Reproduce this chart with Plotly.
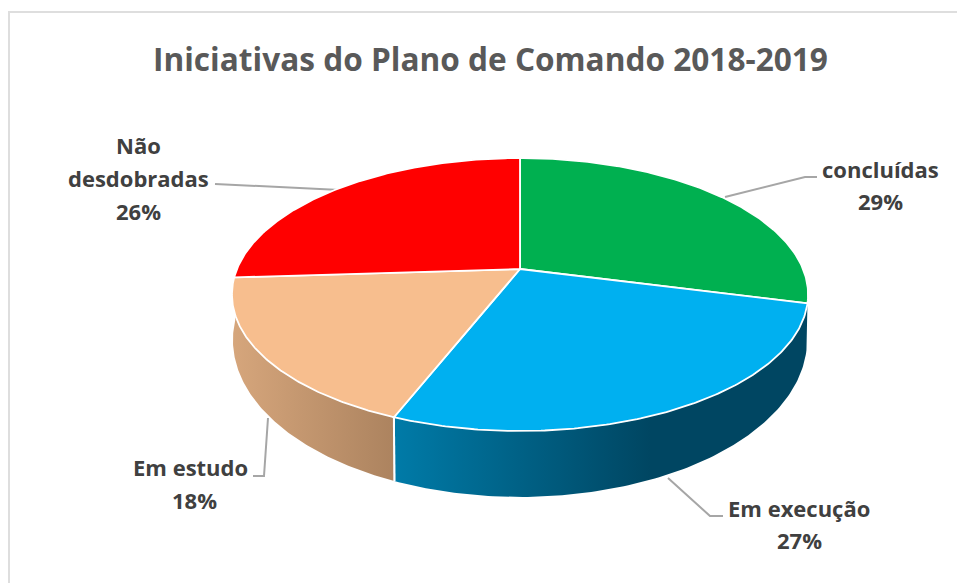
import numpy as np
import plotly.graph_objects as go

# --- data ---
categories = ["concluídas", "Em execução", "Em estudo", "Não desdobradas"]
values = [29, 27, 18, 26]
title_text = "Iniciativas do Plano de Comando 2018-2019"
slice_colors = ["#00B050", "#00B0F0", "#F7BE8E", "#FF0000"]
wall_gradients = {
    "Em execução": [[0, "#007BA8"], [0.62, "#004662"], [1, "#004662"]],
    "Em estudo": [[0, "#D6A67C"], [1, "#AC835F"]],
}
label_lines = {
    "concluídas": [("concluídas", 880, 169)],
    "Em execução": [("Em execução", 799, 508)],
    "Em estudo": [("Em estudo", 190, 467)],
    "Não desdobradas": [("Não", 138, 145), ("desdobradas", 138, 178)],
}
pct_pos = {"concluídas": (880, 201), "Em execução": (799, 540),
           "Em estudo": (194, 500), "Não desdobradas": (138, 211)}
leaders = {
    "concluídas": ([725, 805, 817], [197, 177, 177]),
    "Em execução": ([668, 710, 723], [478, 516, 516]),
    "Em estudo": ([268, 264, 253], [418, 476, 476]),
    "Não desdobradas": ([215, 340], [184, 190]),
}

# --- perspective disc projection (plot-space scale of the "3D" pie) ---
K = 0.187
TOP = dict(cx=520, y0=269, a=283, b=131.7)
BOTTOM = dict(cx=520, y0=310.6, a=282, b=151.5)


def project(theta, p):
    u, v = np.sin(theta), np.cos(theta)
    d = 1 + K * v
    return p["cx"] + p["a"] * u / d, p["y0"] - p["b"] * v / d


fractions = np.cumsum([0] + values) / sum(values)
FONT = "Open Sans"
fig = go.Figure()

# frame
fig.add_trace(go.Scatter(x=[9, 9, 957], y=[583, 12, 12], mode="lines",
                         line=dict(color="#DEDEDE", width=2), hoverinfo="skip"))

# leader lines
for name in categories:
    lx, ly = leaders[name]
    fig.add_trace(go.Scatter(x=lx, y=ly, mode="lines",
                             line=dict(color="#A6A6A6", width=2), hoverinfo="skip"))

# side walls
for i, name in enumerate(categories):
    if name not in wall_gradients:
        continue
    t = np.linspace(fractions[i], fractions[i + 1], 120) * 2 * np.pi
    xt, yt = project(t, TOP)
    xb, yb = project(t, BOTTOM)
    fig.add_trace(go.Scatter(
        x=np.r_[xt, xb[::-1], xt[0]], y=np.r_[yt, yb[::-1], yt[0]],
        mode="lines", fill="toself", line=dict(color="rgba(0,0,0,0)", width=0),
        fillgradient=dict(type="horizontal", colorscale=wall_gradients[name]),
        hoverinfo="skip"))
    # white edge at the wall's start/end
    for end in (0, -1):
        if name == "Em execução" and end == -1 or name == "Em estudo" and end == 0:
            fig.add_trace(go.Scatter(x=[xt[end], xb[end]], y=[yt[end], yb[end]], mode="lines",
                                     line=dict(color="white", width=2), hoverinfo="skip"))

# top surface slices
for i, name in enumerate(categories):
    t = np.linspace(fractions[i], fractions[i + 1], 160) * 2 * np.pi
    xt, yt = project(t, TOP)
    fig.add_trace(go.Scatter(
        x=np.r_[TOP["cx"], xt, TOP["cx"]], y=np.r_[TOP["y0"], yt, TOP["y0"]],
        mode="lines", fill="toself", fillcolor=slice_colors[i],
        line=dict(color="white", width=1.8), name=name, hoverinfo="name"))

# text
annotations = [dict(x=490, y=58, text=f"<b>{title_text}</b>", showarrow=False,
                    xref="x", yref="y", xanchor="center", yanchor="middle",
                    font=dict(family=FONT, size=31.6, color="#595959"))]
for i, name in enumerate(categories):
    for txt, x, y in label_lines[name]:
        annotations.append(dict(x=x, y=y, text=f"<b>{txt}</b>", showarrow=False,
                                xref="x", yref="y", xanchor="center", yanchor="middle",
                                font=dict(family=FONT, size=22, color="#404040")))
    px_, py_ = pct_pos[name]
    annotations.append(dict(x=px_, y=py_, text=f"<b>{values[i]}%</b>", showarrow=False,
                            xref="x", yref="y", xanchor="center", yanchor="middle",
                            font=dict(family=FONT, size=22, color="#404040")))

fig.update_layout(
    width=957, height=583, margin=dict(l=0, r=0, t=0, b=0),
    paper_bgcolor="white", plot_bgcolor="white", showlegend=False,
    xaxis=dict(range=[0, 957], visible=False, fixedrange=True),
    yaxis=dict(range=[583, 0], visible=False, fixedrange=True),
    annotations=annotations,
)
fig.write_html("out.html", config={"displayModeBar": False},
               post_script="document.body.style.margin='0';document.body.style.overflow='hidden';")
